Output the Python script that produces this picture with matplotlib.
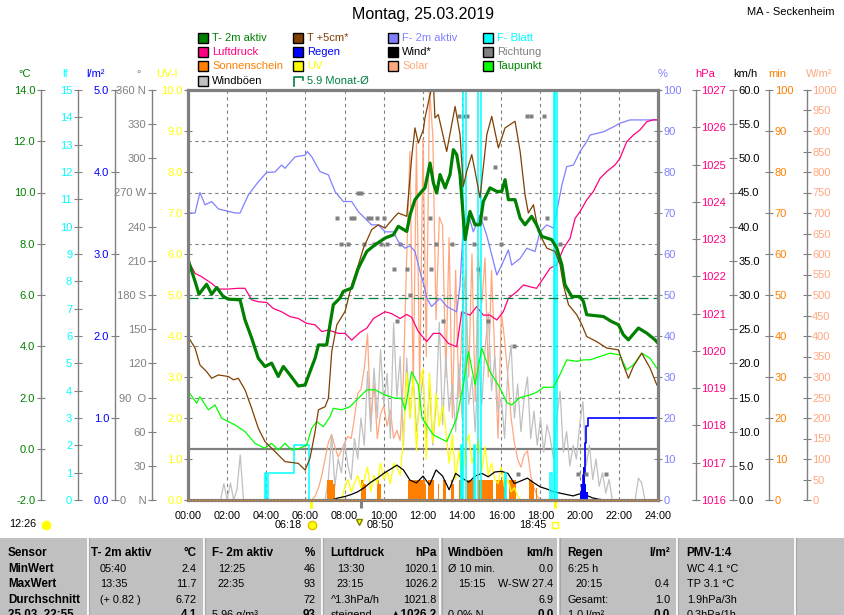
import numpy as np
import matplotlib
matplotlib.use("Agg")
import matplotlib.pyplot as plt
from matplotlib.patches import Rectangle
from matplotlib.lines import Line2D

plt.rcParams['font.family'] = ['Liberation Sans', 'DejaVu Sans']

# ---------------- data ----------------
TITLE = "Montag, 25.03.2019"
STATION = "MA - Seckenheim"
X_LABELS = ["00:00", "02:00", "04:00", "06:00", "08:00", "10:00", "12:00",
            "14:00", "16:00", "18:00", "20:00", "22:00", "24:00"]

# T- 2m aktiv (°C)
T2M_TIME = [0.0, 0.36, 0.56, 0.95, 1.21, 1.47, 1.80, 2.06, 2.66, 2.91, 3.25, 3.59, 3.93, 4.27,
            4.61, 4.87, 5.21, 5.63, 5.98, 6.23, 6.49, 6.66, 7.08, 7.25, 7.42, 7.76, 7.93, 8.36,
            8.70, 9.13, 9.55, 10.06, 10.49, 10.74, 11.17, 11.34, 11.59, 11.93, 12.10, 12.36,
            12.53, 12.70, 12.87, 13.13, 13.38, 13.55, 13.72, 13.89, 14.06, 14.15, 14.40, 14.66,
            14.91, 15.08, 15.42, 15.77, 16.02, 16.19, 16.36, 16.70, 16.96, 17.21, 17.55, 17.80,
            18.06, 18.57, 18.83, 19.09, 19.25, 19.60, 20.02, 20.19, 20.36, 21.21, 21.64, 21.98,
            22.23, 22.49, 23.00, 23.43, 23.85, 24.0]
T2M = [7.38, 6.53, 6.03, 6.42, 6.03, 6.29, 5.94, 5.84, 5.81, 5.03, 4.32, 3.53, 3.21, 3.34,
       2.82, 3.21, 2.88, 2.45, 2.49, 3.01, 3.53, 4.05, 4.05, 4.84, 5.62, 5.88, 6.14, 6.27,
       7.05, 7.70, 7.96, 8.22, 8.35, 8.68, 8.48, 9.13, 9.72, 10.04, 10.18, 11.15,
       10.37, 9.98, 10.70, 10.18, 10.70, 11.67, 11.48, 10.70, 9.00, 8.16, 9.26, 8.74,
       8.74, 9.65, 10.18, 10.04, 10.04, 10.50, 9.72, 9.72, 9.00, 8.74, 9.07, 8.74,
       8.29, 8.16, 7.83, 7.18, 6.40, 5.94, 5.94, 5.75, 5.23, 5.16, 4.96, 4.84,
       4.45, 4.25, 4.71, 4.51, 4.25, 4.12]

# T +5cm* (°C)
T5_TIME = [0.0, 0.36, 0.61, 0.95, 1.21, 1.55, 2.06, 2.32, 2.57, 2.91, 3.25, 3.59, 3.93, 4.27,
           4.61, 4.95, 5.63, 5.98, 6.23, 6.49, 6.66, 7.00, 7.17, 7.34, 7.60, 8.02, 8.36, 8.70,
           8.96, 9.38, 9.72, 10.06, 10.57, 10.74, 11.17, 11.42, 11.59, 11.76, 12.02, 12.10,
           12.36, 12.53, 12.61, 12.78, 13.21, 13.64, 13.89, 14.06, 14.23, 14.49, 14.66, 14.91,
           15.26, 15.51, 15.85, 16.19, 16.70, 16.96, 17.21, 17.38, 17.64, 17.89, 18.32, 18.74,
           19.00, 19.17, 19.43, 19.85, 20.11, 20.36, 20.87, 21.38, 21.98, 22.23, 22.49, 22.74,
           23.17, 23.60, 23.94]
T5 = [4.38, 3.93, 3.27, 3.01, 2.75, 2.88, 2.82, 2.69, 2.75, 2.30, 1.58, 0.80, 0.28, 0.02,
      -0.24, -0.50, -0.57, -0.83, -0.37, 0.67, 1.52, 1.64, 1.97, 3.79, 4.84, 5.36, 6.40, 7.18,
      7.83, 8.55, 8.74, 8.61, 9.07, 9.20, 9.07, 11.35, 12.52, 11.93, 12.45, 12.91,
      13.82, 14.30, 12.91, 13.04, 11.60, 13.36, 12.26, 10.24, 10.82, 11.48, 10.82, 9.79,
      12.26, 12.97, 11.74, 12.52, 12.78, 11.60, 9.91, 9.20, 9.52, 8.48, 7.83, 7.70,
      7.18, 6.40, 5.62, 5.23, 4.84, 4.38, 4.18, 3.93, 3.86, 3.27, 2.75, 3.21,
      3.73, 3.14, 2.49]

# Taupunkt (°C)
TD_TIME = [0.0, 0.44, 0.61, 1.04, 1.38, 1.72, 2.40, 2.91, 3.42, 3.93, 4.27, 4.61, 4.95, 5.30,
           5.72, 6.06, 6.32, 6.57, 6.91, 7.25, 7.42, 7.85, 8.27, 8.70, 9.13, 9.55, 10.06, 10.57,
           10.91, 11.08, 11.42, 11.76, 11.95, 12.53, 13.21, 13.72, 14.06, 14.32, 14.66, 15.00,
           15.42, 15.94, 16.28, 16.53, 16.96, 17.47, 17.80, 18.15, 18.66, 19.00, 19.34, 19.85,
           20.19, 20.53, 21.04, 21.55, 22.06, 22.40, 22.74, 23.17, 23.60, 23.94]
TD = [2.26, 1.78, 2.03, 1.52, 1.71, 1.19, 0.93, 0.67, 0.21, 0.02, 0.21, -0.05, 0.21, -0.05,
      0.02, 0.15, 0.80, 1.06, 0.86, 1.25, 1.58, 1.52, 1.64, 1.97, 2.30, 2.30, 2.10, 1.97,
      1.97, 1.52, 3.01, 2.49, 1.19, 0.54, 0.28, 1.19, 2.49, 3.79, 2.49, 3.93,
      3.01, 2.36, 1.80, 1.71, 2.00, 2.10, 2.20, 2.40, 2.40, 2.90, 3.47, 3.41,
      3.47, 3.47, 3.60, 3.73, 3.66, 3.08, 3.27, 3.73, 3.53, 3.14]

MONTH_MEAN = 5.9

# F- 2m aktiv (%)
RH_TIME = [0.0, 0.36, 0.61, 0.87, 1.21, 1.55, 2.40, 2.66, 3.08, 3.59, 4.02, 4.44, 4.78, 4.95,
           5.47, 5.98, 6.10, 6.32, 6.74, 7.17, 7.51, 7.93, 8.36, 8.70, 9.04, 9.38, 9.72, 10.06,
           10.49, 10.74, 11.08, 11.34, 11.59, 11.85, 12.07, 12.19, 12.44, 12.87, 13.21, 13.72,
           13.89, 14.06, 14.32, 14.57, 14.91, 15.25, 15.51, 15.77, 16.02, 16.36, 16.53, 16.96,
           17.30, 17.72, 17.97, 18.32, 18.66, 18.83, 19.09, 19.34, 19.68, 20.02, 20.36, 20.53,
           21.21, 21.72, 22.06, 22.57, 23.94]
RH = [70, 70, 75, 72, 72.8, 71, 70, 70, 74.4, 77.6, 79.9, 80, 81.7, 80.9,
      83.7, 84.1, 85, 83.7, 80.1, 79.3, 75.2, 72.8, 72.8, 70.3, 68.7, 67.1, 67.1, 65.4,
      65.4, 63, 61.4, 62, 60.6, 55.7, 52, 49.2, 47.2, 49.2, 47.2, 45.9,
      52.4, 67.1, 69.5, 65.4, 69.5, 64.6, 59.8, 54.9, 57.3, 61, 57.3, 58.9,
      61.4, 60.6, 65.4, 67.1, 66.3, 70.3, 76.8, 81.3, 81.7, 85, 87.4, 89,
      89.8, 91, 91.9, 92.7, 92.7]

# Luftdruck (hPa)
P_TIME = [0.0, 0.36, 0.70, 1.21, 1.55, 2.06, 2.57, 2.91, 3.25, 3.59, 4.02, 4.35, 4.78, 5.21,
          5.63, 6.06, 6.49, 6.83, 7.17, 7.68, 8.02, 8.36, 8.79, 9.13, 9.47, 10.06, 10.40, 10.83,
          11.17, 11.42, 11.76, 12.19, 12.53, 12.87, 13.30, 13.72, 13.98, 14.40, 14.74, 15.08,
          15.42, 15.77, 16.10, 16.36, 16.79, 17.13, 17.47, 17.80, 18.15, 18.49, 18.83, 19.17,
          19.51, 19.77, 20.02, 20.36, 20.70, 21.04, 21.38, 21.81, 22.06, 22.40, 22.74, 23.08,
          23.43, 23.77, 23.94]
P = [1022.44, 1022.08, 1021.99, 1021.81, 1021.66, 1021.66, 1021.68, 1021.68, 1021.37, 1021.32,
     1021.30, 1021.14, 1021.05, 1020.92, 1020.87, 1020.74, 1020.70, 1020.52, 1020.56, 1020.47,
     1020.47, 1020.29, 1020.50, 1020.61, 1020.87, 1021.05, 1021.00, 1020.87, 1020.98, 1020.90,
     1020.52, 1020.25, 1020.47, 1020.47, 1020.20, 1020.11, 1021.05, 1020.96, 1021.19, 1020.96,
     1020.96, 1020.83, 1021.05, 1021.41, 1021.59, 1021.77, 1021.72, 1021.68, 1021.95, 1022.22,
     1022.31, 1022.75, 1023.02, 1023.56, 1023.74, 1024.05, 1024.28, 1024.63, 1024.81, 1024.99,
     1025.17, 1025.61, 1025.79, 1025.93, 1026.15, 1026.20, 1026.20]

# Windböen (km/h), every 10 min from 00:00
GUST_START, GUST_STEP = "00:00", 10
GUST = [0, 0, 0, 0, 0, 0, 0, 0, 0, 0, 0,
        2.4, 0, 2.5, 0, 1.5, 6.6, 0,
        0, 0, 0, 0, 0, 0, 0, 0, 0, 0, 0, 0, 0, 0, 0, 0, 0, 0, 0, 0, 0, 0, 0, 0, 0,
        3, 9.5, 2, 6, 4,
        8.5, 5, 3, 9, 6, 12,
        8, 18.8, 10, 19.3, 12, 22,
        14, 18.5, 9, 25.9, 15, 21,
        8, 20.8, 12, 18, 10, 14,
        18, 9, 17, 8, 14, 26,
        11, 21, 13, 17, 10, 20,
        12, 22, 14, 18, 10, 20.5,
        14, 22, 27.4, 16, 21, 13,
        15, 9, 19, 22.7, 12, 17,
        10, 15, 18, 9, 13, 8,
        12, 7, 11, 9, 6, 12,
        15.9, 7, 10, 5, 8, 6,
        11, 14.4, 5, 8, 3, 6,
        2, 4, 1, 3, 0, 0,
        0, 0, 0, 0, 0, 0,
        3.2, 2.5, 0, 0, 0, 0, 0]

# Wind* (km/h), every 20 min from 07:20
WIND_START, WIND_STEP = "07:20", 20
WIND = [0, 0.3,
        0.5, 0.8, 1.2, 1.8, 2.6, 3.2, 3.9, 4.5, 5.1,
        4.4, 2.9, 2.5, 3.5, 2.2, 4.4, 3.5, 1.5, 3.9,
        3.2, 2.6, 3.5, 3.9, 3.4, 4.1, 4.2, 3.9, 2.4,
        2.8, 3.2, 2.5, 1.9, 1.6, 1.2, 1.0, 0.8, 0.6,
        0.9, 0.7, 0.3, 0.1, 0]

# Solar (W/m²), every 10 min from 06:20
SOLAR_START, SOLAR_STEP = "06:20", 10
SOLAR = [0, 10, 30, 60,
         100, 140, 160, 130, 105, 120,
         140, 155, 150, 200, 260, 270,
         320, 405, 190, 285, 150, 210,
         230, 180, 220, 150, 170, 145,
         300, 590, 850, 270, 870, 270,
         880, 350, 1000, 890, 440, 690,
         670, 300, 640, 200, 560, 250,
         430, 560, 300, 600, 240, 590,
         480, 590, 300, 560, 350, 150,
         460, 390, 300, 200, 140, 100,
         80, 110, 120, 60, 30, 10,
         0]

# UV-Index, every 10 min from 07:50
UV_START, UV_STEP = "07:50", 10
UV = [0,
      0.3, 0.5, 0.2, 0.4, 0.6, 0.3,
      0.5, 0.8, 0.2, 0.6, 0.4, 0.9,
      0.5, 0.7, 0.4, 0.9, 0.8, 0.6,
      1.5, 3.1, 2.0, 3.0, 1.2, 2.8,
      3.2, 1.0, 3.1, 1.4, 2.6, 1.8,
      2.3, 1.7, 0.9, 1.6, 0.5, 1.2,
      0.4, 1.3, 1.6, 0.9, 1.2, 1.5,
      0.7, 1.3, 0.6, 0.9, 0.5, 0.4,
      0.8, 0.3, 0.5, 0.2, 0.3, 0.1,
      0]

# Sonnenschein (min per 5-min interval)
SUN_TIMES = ['07:05', '07:10', '07:15', '07:20', '07:25', '08:50', '08:55', '09:00', '09:40',
             '09:45', '11:15', '11:20', '11:25', '11:30', '11:35', '11:40', '11:45', '11:50',
             '11:55', '12:00', '12:05', '12:15', '12:20', '12:25', '12:30', '12:45', '13:00',
             '13:05', '13:25', '13:30', '13:50', '14:15', '14:20', '14:25', '14:30', '14:50',
             '14:55', '15:00', '15:05', '15:10', '15:15', '15:20', '15:25', '15:30', '15:45',
             '15:50', '15:55', '16:00', '16:05', '16:10', '16:25', '16:30', '16:35', '16:40',
             '17:25', '17:30', '17:35', '17:45']
SUN_MIN = [5, 5, 5, 5, 4, 5, 5, 4, 5,
           4, 5, 5, 5, 5, 5, 5, 5, 5,
           5, 5, 4, 5, 5, 5, 5, 4, 5,
           5, 5, 4, 5, 5, 5, 5, 5, 5,
           5, 5, 5, 5, 5, 5, 5, 5, 5,
           5, 5, 5, 5, 4, 5, 5, 5, 5,
           5, 5, 4, 3]

# Regen (l/m² per 5 min)
RAIN_TIMES = ['20:00', '20:05', '20:10', '20:15', '20:20']
RAIN_MM = [0.1, 0.2, 0.4, 0.2, 0.1]

# Richtung (°)
DIR_TIMES = ['07:35', '07:50', '08:10', '08:20', '08:30', '08:40', '08:50', '09:00', '09:10',
             '09:20', '09:30', '09:40', '09:50', '10:00', '10:10', '10:30', '10:40', '10:50',
             '11:10', '11:20', '12:20', '12:25', '12:40', '13:00', '13:30', '13:50', '14:05',
             '14:15', '14:35', '14:50', '15:10', '15:20', '15:40', '16:00', '16:40', '16:50',
             '17:20', '17:30', '18:10', '18:20', '19:00', '19:55', '20:20', '21:20']
DIR_DEG = [247.5, 225, 225, 247.5, 247.5, 270, 270, 225, 247.5,
           247.5, 225, 247.5, 225, 247.5, 225, 202.5, 157.5, 225,
           202.5, 180, 247.5, 202.5, 225, 157.5, 225, 337.5, 337.5,
           337.5, 225, 202.5, 247.5, 157.5, 292.5, 225, 135, 22.5,
           337.5, 337.5, 337.5, 247.5, 225, 22.5, 22.5, 22.5]

# F- Blatt (lf)
LF_TIMES = ['00:00', '03:55', '04:00', '04:05', '05:25', '06:10', '13:55', '14:00', '14:04',
            '14:11', '14:35', '14:40', '14:50', '14:57', '16:10', '16:15', '18:30', '18:35',
            '18:40', '18:43', '18:50', '24:00']
LF = [0, 1, 0, 1, 2, 0, 2, 0, 15, 0, 2, 0, 15, 0, 1, 0, 1, 0, 15, 0, 15, 15]

SUNRISE, SUNSET, EVENT_0850, EVENT_1226 = "06:18", "18:45", "08:50", "12:26"

# statistics table
TABLE_ROWS = ["Sensor", "MinWert", "MaxWert", "Durchschnitt", "25.03. 22:55"]
TABLE_COLS = [
    # header, unit, left texts, right texts
    ("T- 2m aktiv", "°C", ["05:40", "13:35", "(+ 0.82 )", ""], ["2.4", "11.7", "6.72", "4.1"]),
    ("F- 2m aktiv", "%", ["12:25", "22:35", "", "5.96 g/m³"], ["46", "93", "72", "93"]),
    ("Luftdruck", "hPa", ["13:30", "23:15", "^1.3hPa/h", "steigend"],
     ["1020.1", "1026.2", "1021.8", "▲1026.2"]),
    ("Windböen", "km/h", ["Ø 10 min.", "15:15", "", "0.0% N"], ["0.0", "W-SW 27.4", "6.9", "0.0"]),
    ("Regen", "l/m²", ["6:25 h", "20:15", "Gesamt:", "1.0 l/m²"], ["", "0.4", "1.0", "0.0"]),
    ("PMV-1:4", "", ["WC 4.1 °C", "TP 3.1 °C", "1.9hPa/3h", "0.3hPa/1h"], ["", "", "", ""]),
]

# ---------------- helpers ----------------
def hm(s):
    h, m = s.split(':')
    return int(h) + int(m) / 60.0

def grid(start, step, n):
    return hm(start) + np.arange(n) * step / 60.0

W, H = 845, 615
fig = plt.figure(figsize=(W / 100, H / 100), dpi=100)
fig.patch.set_facecolor('white')

def ptext(x, y, s, **kw):
    return fig.text(x / W, 1 - y / H, s, **kw)

def prect(x, y, w, h, **kw):
    r = Rectangle((x / W, 1 - (y + h) / H), w / W, h / H, transform=fig.transFigure, **kw)
    fig.add_artist(r)

def pline(xs, ys, **kw):
    fig.add_artist(Line2D([x / W for x in xs], [1 - y / H for y in ys],
                          transform=fig.transFigure, **kw))

C_T2 = '#008000'; C_T5 = '#804000'; C_RH = '#8080FF'; C_LF = '#00FFFF'
C_P = '#FF0080'; C_RAIN = '#0000FF'; C_WIND = '#000000'; C_DIR = '#808080'
C_SUN = '#FF8000'; C_UV = '#FFFF00'; C_SOL = '#FFA880'; C_TD = '#00FF00'
C_GUST = '#C0C0C0'; C_MEAN = '#008040'; GRAY = '#808080'

L, R, T, B = 188, 658, 90, 500
ax = fig.add_axes([L / W, 1 - B / H, (R - L) / W, (B - T) / H])
ax.set_xlim(0, 24)
ax.set_ylim(-2, 14)
ax.set_xticks(np.arange(0, 25, 2))
ax.set_xticklabels(X_LABELS, fontsize=7.8)
ax.tick_params(axis='x', length=0, pad=8)
ax.set_yticks([2, 4, 6, 8, 10, 12])
ax.tick_params(axis='y', length=0, labelleft=False)
ax.grid(True, color=GRAY, linestyle=(0, (3, 3)), linewidth=0.8)
for s in ax.spines.values():
    s.set_visible(False)
ax.axhline(0, color=GRAY, lw=1.6)

def twin(ylim, side=None, pos=None, ticks=None, labels=None, color=None):
    a = ax.twinx()
    a.set_ylim(*ylim)
    a.set_xlim(0, 24)
    for s in a.spines.values():
        s.set_visible(False)
    if side is None:
        a.set_yticks([])
    else:
        sp = a.spines[side]
        sp.set_visible(True)
        sp.set_position(('axes', pos))
        sp.set_color(GRAY)
        sp.set_linewidth(1.0)
        a.yaxis.set_ticks_position(side)
        a.yaxis.set_label_position(side)
        a.set_yticks(ticks)
        a.set_yticklabels(labels)
        a.tick_params(axis='y', direction='inout', length=5.5, width=0.8, colors=GRAY,
                      labelcolor=color, labelsize=8, pad=1.2)
    return a

# Solar
a_sol = twin((0, 1000), 'right', 1.3164, np.arange(0, 1001, 50),
             [str(v) for v in range(0, 1001, 50)], C_SOL)
a_sol.plot(grid(SOLAR_START, SOLAR_STEP, len(SOLAR)), SOLAR, color=C_SOL, lw=0.9)

# Gusts
a_gust = twin((0, 60), 'right', 1.159, np.arange(0, 61, 5),
              ["%.1f" % v for v in range(0, 61, 5)], '#000000')
a_gust.plot(grid(GUST_START, GUST_STEP, len(GUST)), GUST, color=C_GUST, lw=0.9)

# Sunshine
a_min = twin((0, 100), 'right', 1.2368, np.arange(0, 101, 10),
             [str(v) for v in range(0, 101, 10)], C_SUN)
a_min.bar([hm(t) for t in SUN_TIMES], SUN_MIN, width=5 / 60, align='edge', color=C_SUN, lw=0)

# UV
a_uv = twin((0, 10), 'left', 0.0, np.arange(0, 11, 1),
            ["%.1f" % v for v in range(0, 11)], C_UV)
a_uv.plot(grid(UV_START, UV_STEP, len(UV)), UV, color=C_UV, lw=0.9)

# Wind (km/h)
a_wind = twin((0, 60))
a_wind.plot(grid(WIND_START, WIND_STEP, len(WIND)), WIND, color=C_WIND, lw=0.9)

# Rain
a_rain = twin((0, 5), 'left', -0.156, np.arange(0, 6, 1),
              ["%.1f" % v for v in range(0, 6)], C_RAIN)
rain_t = [hm(t) for t in RAIN_TIMES]
a_rain.bar(rain_t, RAIN_MM, width=5 / 60, align='edge', color=C_RAIN, lw=0)
cum = np.cumsum(RAIN_MM)
a_rain.step([rain_t[0]] + [t + 5 / 60 for t in rain_t] + [24], [0] + list(cum) + [cum[-1]],
            where='post', color=C_RAIN, lw=1.2)

# Direction
dir_labels = []
for v in range(0, 361, 30):
    lab = {0: "0    N", 90: "90  O", 180: "180 S", 270: "270 W", 360: "360 N"}.get(v, str(v))
    dir_labels.append(lab)
a_dir = twin((0, 360), 'left', -0.0772, np.arange(0, 361, 30), dir_labels, GRAY)
a_dir.plot([hm(t) for t in DIR_TIMES], DIR_DEG, ls='none', marker='s', ms=2.2,
           color=C_DIR, mec='none')

# Humidity
a_rh = twin((0, 100), 'right', 1.0, np.arange(0, 101, 10),
            [str(v) for v in range(0, 101, 10)], C_RH)
a_rh.plot(RH_TIME, RH, color=C_RH, lw=0.9)

# Pressure
a_p = twin((1016, 1027), 'right', 1.0802, np.arange(1016, 1028, 1),
           [str(v) for v in range(1016, 1028)], C_P)
a_p.plot(P_TIME, P, color=C_P, lw=0.9)

# Leaf wetness
a_lf = twin((0, 15), 'left', -0.2347, np.arange(0, 16, 1),
            [str(v) for v in range(0, 16)], C_LF)
a_lf.step([hm(t) for t in LF_TIMES], LF, where='post', color=C_LF, lw=1.1)

# Temperatures
a_T = twin((-2, 14), 'left', -0.3134, np.arange(-2, 15, 2),
           ["%.1f" % v for v in range(-2, 15, 2)], C_T2)
a_T.plot(TD_TIME, TD, color=C_TD, lw=0.9)
a_T.plot(T5_TIME, T5, color=C_T5, lw=0.9)
a_T.axhline(MONTH_MEAN, color=C_MEAN, lw=0.9, ls=(0, (8, 4)))
a_T.plot(T2M_TIME, T2M, color=C_T2, lw=2.3)

# frame on top
frame = ax.twinx()
frame.set_yticks([])
frame.set_ylim(0, 1)
for s in frame.spines.values():
    s.set_color(GRAY)
    s.set_linewidth(2.3)
frame.axhline(0, color=C_SUN, lw=1.0, ls=(0, (1, 1.5)), clip_on=False, zorder=5)

# sunrise / sunset markers on time axis
xt = ax.get_xaxis_transform()
for t, col in [(SUNRISE, C_UV), (SUNSET, C_UV), (EVENT_0850, GRAY)]:
    frame.vlines(hm(t), -0.02, 0, transform=xt, color=col, lw=2.2, clip_on=False)

# ---------------- texts ----------------
ptext(423.5, 15, TITLE, fontsize=11.5, ha='center', va='center')
ptext(791, 12, STATION, fontsize=8, ha='center', va='center')

for x, s, c in [(25, "°C", C_T2), (65, "lf", C_LF), (95.5, "l/m²", C_RAIN), (139, "°", GRAY),
                (167, "UV-I", C_UV), (662.5, "%", C_RH), (704.7, "hPa", C_P),
                (745, "km/h", '#000000'), (777.3, "min", C_SUN), (819.5, "W/m²", C_SOL)]:
    ptext(x, 74, s, fontsize=8, ha='center', va='center', color=c)

legend = [
    [("T- 2m aktiv", C_T2, C_T2), ("T +5cm*", C_T5, C_T5), ("F- 2m aktiv", C_RH, C_RH),
     ("F- Blatt", C_LF, C_LF)],
    [("Luftdruck", C_P, C_P), ("Regen", C_RAIN, C_RAIN), ("Wind*", C_WIND, C_WIND),
     ("Richtung", C_DIR, C_DIR)],
    [("Sonnenschein", C_SUN, C_SUN), ("UV", C_UV, C_UV), ("Solar", C_SOL, C_SOL),
     ("Taupunkt", C_TD, C_T2)],
    [("Windböen", C_GUST, '#000000'), ("%.1f Monat-Ø" % MONTH_MEAN, None, C_MEAN)],
]
col_x = [198, 293, 388, 483]
row_y = [38, 52, 66, 80.5]
for r, row in enumerate(legend):
    for c, (lab, fc, tc) in enumerate(row):
        x0, yc = col_x[c], row_y[r]
        if fc is None:
            pline([x0 + 1, x0 + 1, x0 + 10, x0 + 10], [yc + 5, yc - 4, yc - 4, yc - 1],
                  color=C_MEAN, lw=1.2)
        else:
            prect(x0, yc - 4.5, 10, 9.5, facecolor=fc, edgecolor='black', lw=1.0)
        ptext(x0 + 14, yc, lab, fontsize=8, color=tc, ha='left', va='center')

# sun info below axis
ptext(302, 525, SUNRISE, fontsize=7.8, ha='right', va='center')
fig.add_artist(Line2D([312 / W], [1 - 525 / H], marker='o', ms=6, color=C_UV,
                      mec='#E0C000', transform=fig.transFigure))
fig.add_artist(Line2D([359 / W], [1 - 522 / H], marker='v', ms=5, color=C_UV,
                      mec='#808000', transform=fig.transFigure))
ptext(367, 525, EVENT_0850, fontsize=7.8, ha='left', va='center')
ptext(547, 525, SUNSET, fontsize=7.8, ha='right', va='center')
prect(552, 521.5, 6, 6, facecolor='white', edgecolor=C_UV, lw=1)
ptext(36, 524, EVENT_1226, fontsize=7.8, ha='right', va='center')
fig.add_artist(Line2D([46 / W], [1 - 525 / H], marker='o', ms=6, color=C_UV,
                      transform=fig.transFigure))

# ---------------- statistics table ----------------
prect(0, 538, W, H - 538 + 2, facecolor='#C0C0C0', edgecolor='none')
for xs in [88, 204, 322, 440.5, 558.5, 677, 795]:
    pline([xs, xs], [538, 616], color='white', lw=1.3)
    pline([xs + 1.3, xs + 1.3], [538, 616], color='#A8A8A8', lw=0.8)

rows_y = [553.3, 568.5, 584.3, 600, 615.5]
for i, s in enumerate(TABLE_ROWS):
    ptext(8, rows_y[i], s, fontsize=8.4, fontweight='bold', ha='left', va='center')

col_left = [91, 211.7, 330.7, 447.7, 567.7, 686.7]
col_right = [197, 315.5, 437, 553.3, 670, None]
row_left_x = [[100, 100, 100, 100], [218, 218, 218, 212], [337, 337, 331, 331],
              [448, 458, 448, 448], [567.7, 575, 567.7, 567.7], [686.7] * 4]
for c, (hdr, unit, lefts, rights) in enumerate(TABLE_COLS):
    ptext(col_left[c], rows_y[0], hdr, fontsize=8.4, fontweight='bold', ha='left', va='center')
    if unit:
        ptext(col_right[c], rows_y[0], unit, fontsize=8.4, fontweight='bold', ha='right',
              va='center')
    for i, s in enumerate(lefts):
        if s:
            ptext(row_left_x[c][i], rows_y[i + 1], s, fontsize=7.8, ha='left', va='center')
    for i, s in enumerate(rights):
        if s:
            ptext(col_right[c], rows_y[i + 1], s, fontsize=8.4 if i == 3 else 7.8,
                  fontweight='bold' if i == 3 else 'normal', ha='right', va='center')

fig.savefig('out.png', dpi=100)
